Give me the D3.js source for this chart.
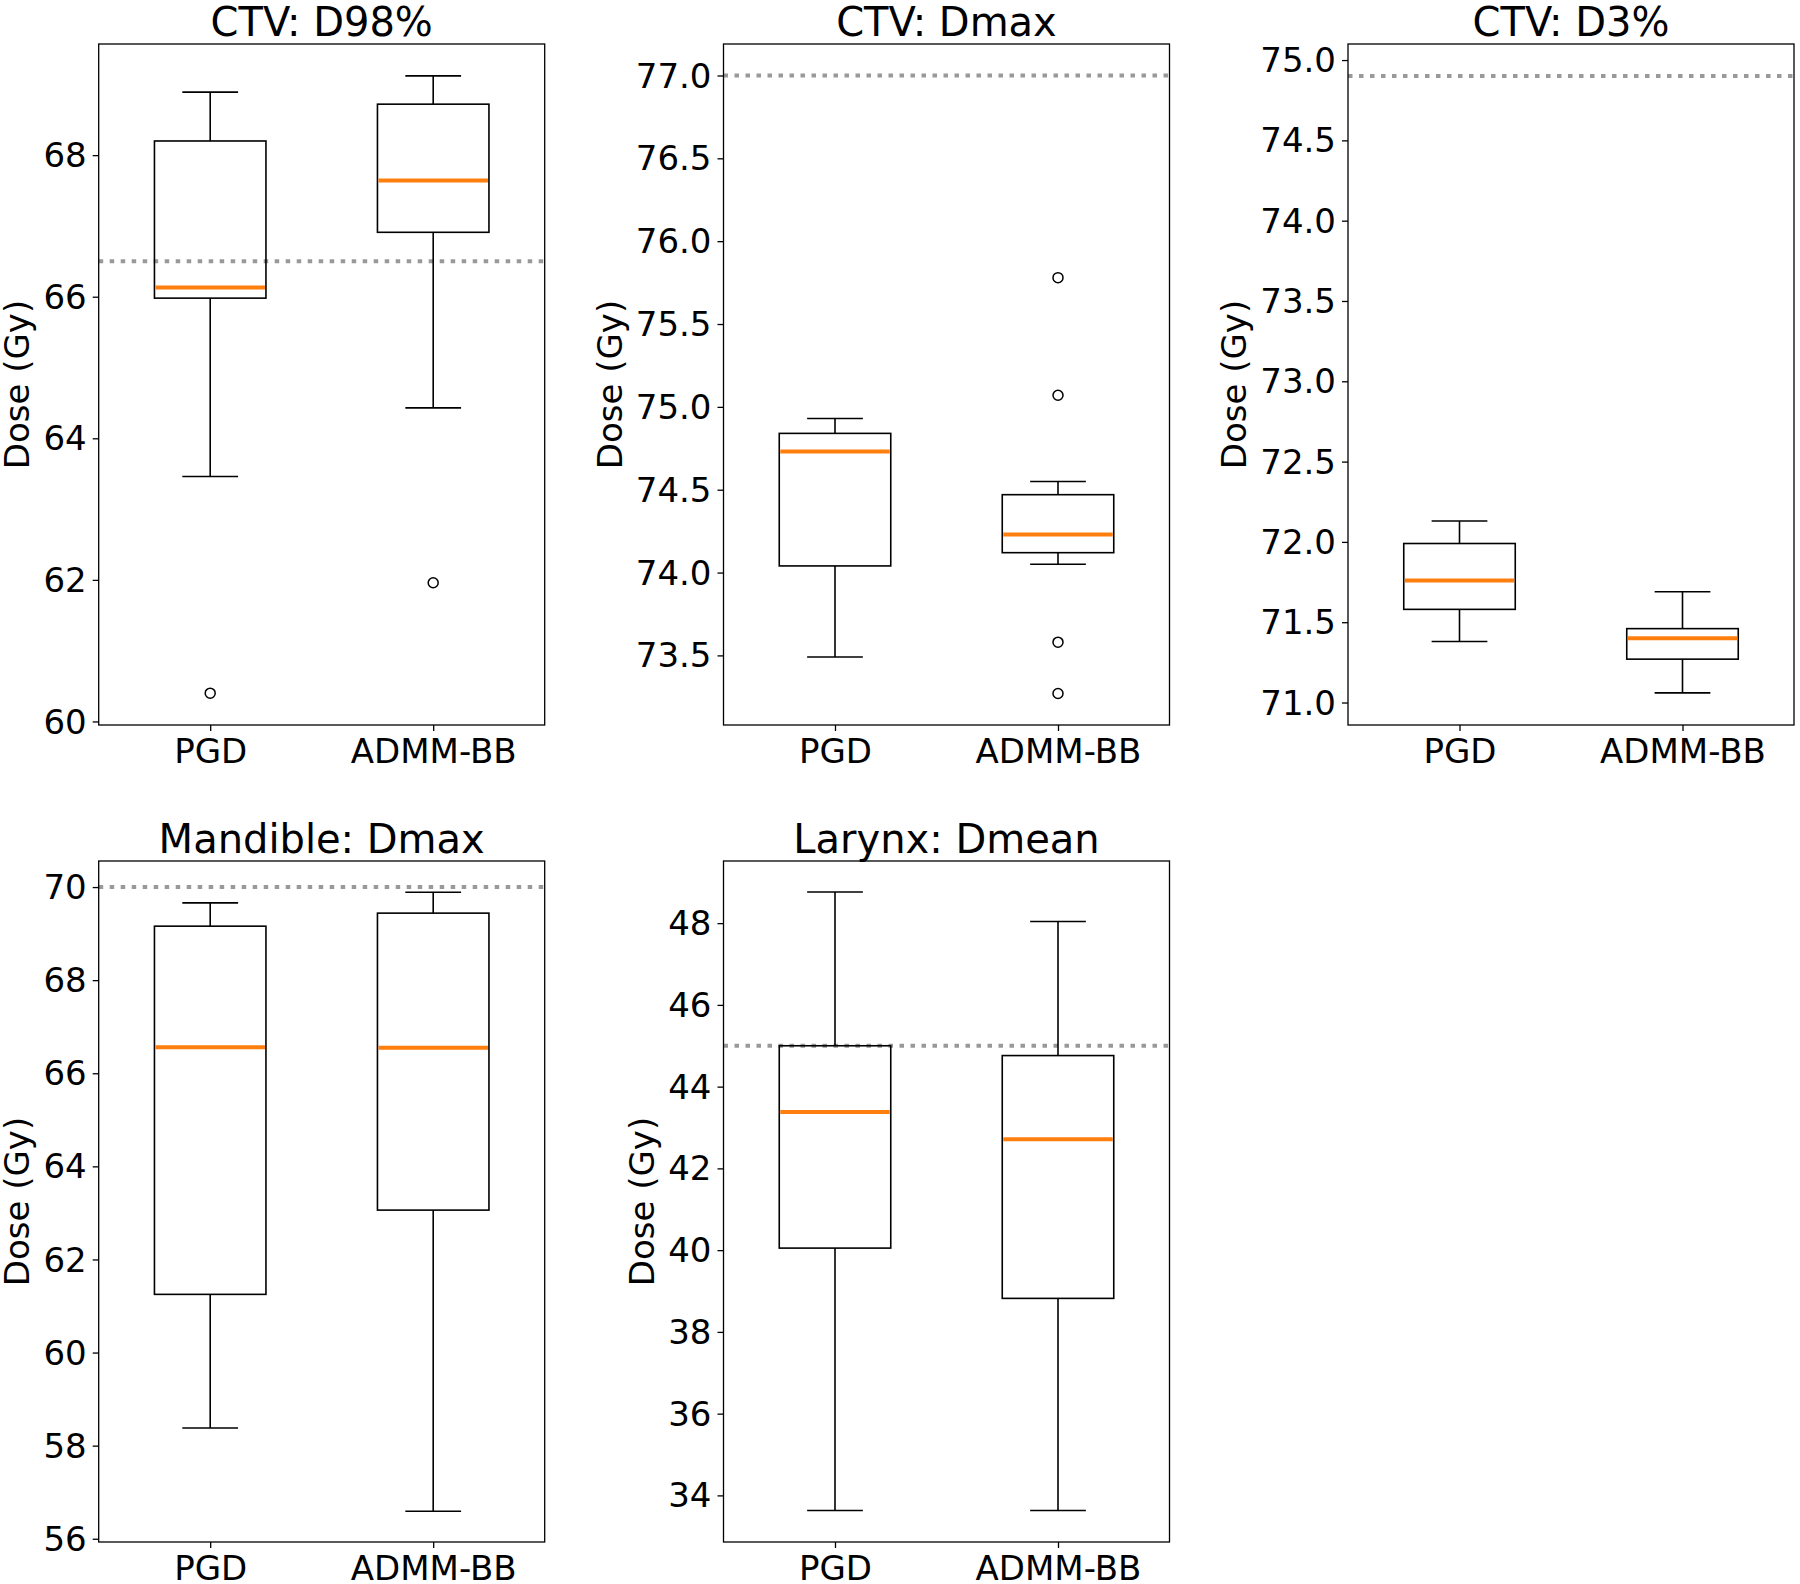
<!DOCTYPE html>
<html>
<head>
<meta charset="utf-8">
<script src="https://cdn.jsdelivr.net/npm/d3@7"></script>
<style>
  html, body { margin: 0; padding: 0; background: #fff; }
  svg { display: block; }
  text { font-family: "DejaVu Sans", sans-serif; fill: #000; }
</style>
</head>
<body>
<svg id="chart" width="1800" height="1584"></svg>
<script>
// ---------- data ----------
const groups = ["PGD", "ADMM-BB"];
const titles = ["CTV: D98%", "CTV: Dmax", "CTV: D3%", "Mandible: Dmax", "Larynx: Dmean"];
const yLabel = "Dose (Gy)";

// box statistics: [lower whisker, Q1, median, Q3, upper whisker]
const d98PGD   = [63.46, 65.98, 66.13, 68.20, 68.89];
const d98ADMM  = [64.43, 66.91, 67.64, 68.72, 69.12];
const dmaxPGD  = [73.49, 74.04, 74.73, 74.84, 74.93];
const dmaxADMM = [74.05, 74.12, 74.23, 74.47, 74.55];
const d3PGD    = [71.38, 71.58, 71.76, 71.99, 72.13];
const d3ADMM   = [71.06, 71.27, 71.40, 71.46, 71.69];
const mandPGD  = [58.38, 61.25, 66.56, 69.16, 69.66];
const mandADMM = [56.59, 63.06, 66.55, 69.44, 69.89];
const larPGD   = [33.63, 40.05, 43.38, 45.00, 48.76];
const larADMM  = [33.63, 38.82, 42.71, 44.76, 48.04];

// outliers
const d98PGDOut   = [60.40];
const d98ADMMOut  = [61.96];
const dmaxPGDOut  = [];
const dmaxADMMOut = [75.78, 75.07, 73.58, 73.27];
const d3PGDOut = [], d3ADMMOut = [], mandPGDOut = [], mandADMMOut = [], larPGDOut = [], larADMMOut = [];

// constraint (threshold) lines
const thresholds = [66.5, 77.0, 74.9, 70.0, 45.0];

// axis limits
const yLimits = [[59.95, 69.57], [73.08, 77.19], [70.86, 75.10], [55.93, 70.56], [32.86, 49.52]];

// tick values
const ticksD98  = [60, 62, 64, 66, 68];
const ticksDmax = [73.5, 74.0, 74.5, 75.0, 75.5, 76.0, 76.5, 77.0];
const ticksD3   = [71.0, 71.5, 72.0, 72.5, 73.0, 73.5, 74.0, 74.5, 75.0];
const ticksMand = [56, 58, 60, 62, 64, 66, 68, 70];
const ticksLar  = [34, 36, 38, 40, 42, 44, 46, 48];
const tickFormats = [".0f", ".1f", ".1f", ".0f", ".0f"];

// ---------- layout ----------
const colLeft = [98.7, 723.5, 1348];
const rowTop = [44, 861];
const W = 446, H = 681;

const panels = [
  { stats: [d98PGD, d98ADMM],   out: [d98PGDOut, d98ADMMOut],   ticks: ticksD98,  col: 0, row: 0 },
  { stats: [dmaxPGD, dmaxADMM], out: [dmaxPGDOut, dmaxADMMOut], ticks: ticksDmax, col: 1, row: 0 },
  { stats: [d3PGD, d3ADMM],     out: [d3PGDOut, d3ADMMOut],     ticks: ticksD3,   col: 2, row: 0 },
  { stats: [mandPGD, mandADMM], out: [mandPGDOut, mandADMMOut], ticks: ticksMand, col: 0, row: 1 },
  { stats: [larPGD, larADMM],   out: [larPGDOut, larADMMOut],   ticks: ticksLar,  col: 1, row: 1 }
];

const svg = d3.select("#chart");

panels.forEach((p, i) => {
  const x0 = colLeft[p.col], y0 = rowTop[p.row];
  const g = svg.append("g").attr("transform", `translate(${x0},${y0})`);

  const x = d3.scaleLinear().domain([0.5, 2.5]).range([0, W]);
  const y = d3.scaleLinear().domain(yLimits[i]).range([H, 0]);
  const boxW = x(1.25) - x(1.0);   // half box width in px (box width 0.5)
  const capW = x(1.125) - x(1.0);  // half cap width

  // threshold dotted line
  g.append("line")
    .attr("x1", 0).attr("x2", W)
    .attr("y1", y(thresholds[i])).attr("y2", y(thresholds[i]))
    .attr("stroke", "#999999").attr("stroke-width", 4)
    .attr("stroke-dasharray", "4.5 6.5");

  // boxes
  p.stats.forEach((s, k) => {
    const cx = x(k + 1);
    const bg = g.append("g");
    bg.append("line").attr("x1", cx).attr("x2", cx).attr("y1", y(s[0])).attr("y2", y(s[1]))
      .attr("stroke", "#000").attr("stroke-width", 1.6);
    bg.append("line").attr("x1", cx).attr("x2", cx).attr("y1", y(s[3])).attr("y2", y(s[4]))
      .attr("stroke", "#000").attr("stroke-width", 1.6);
    [s[0], s[4]].forEach(v => {
      bg.append("line").attr("x1", cx - capW).attr("x2", cx + capW).attr("y1", y(v)).attr("y2", y(v))
        .attr("stroke", "#000").attr("stroke-width", 1.6);
    });
    bg.append("rect").attr("x", cx - boxW).attr("width", 2 * boxW)
      .attr("y", y(s[3])).attr("height", y(s[1]) - y(s[3]))
      .attr("fill", "none").attr("stroke", "#000").attr("stroke-width", 1.6);
    bg.append("line").attr("x1", cx - boxW + 1).attr("x2", cx + boxW - 1)
      .attr("y1", y(s[2])).attr("y2", y(s[2]))
      .attr("stroke", "#ff7f0e").attr("stroke-width", 4);
    p.out[k].forEach(v => {
      bg.append("circle").attr("cx", cx).attr("cy", y(v)).attr("r", 5)
        .attr("fill", "none").attr("stroke", "#000").attr("stroke-width", 1.5);
    });
  });

  // frame
  g.append("rect").attr("x", 0).attr("y", 0).attr("width", W).attr("height", H)
    .attr("fill", "none").attr("stroke", "#000").attr("stroke-width", 1.3);

  // y axis
  const yAxis = d3.axisLeft(y).tickValues(p.ticks).tickFormat(d3.format(tickFormats[i]))
    .tickSize(6).tickPadding(6);
  const ya = g.append("g").call(yAxis);
  ya.select(".domain").remove();
  ya.selectAll(".tick line").attr("stroke", "#000").attr("stroke-width", 1.3);
  ya.selectAll(".tick text").attr("font-size", 34).attr("font-family", "DejaVu Sans")
    .attr("fill", "#000").attr("dy", "0.34em");

  // x axis
  const xAxis = d3.axisBottom(x).tickValues([1, 2]).tickFormat((d) => groups[d - 1])
    .tickSize(6).tickPadding(6);
  const xa = g.append("g").attr("transform", `translate(0,${H})`).call(xAxis);
  xa.select(".domain").remove();
  xa.selectAll(".tick line").attr("stroke", "#000").attr("stroke-width", 1.3);
  xa.selectAll(".tick text").attr("font-size", 34).attr("font-family", "DejaVu Sans")
    .attr("fill", "#000").attr("dy", null).attr("y", 38);

  // title
  g.append("text").attr("x", W / 2).attr("y", -8).attr("text-anchor", "middle")
    .attr("font-size", 40).text(titles[i]);

  // y label, placed left of the tick labels
  let minX = 0;
  ya.selectAll(".tick text").each(function () {
    const b = this.getBBox();
    minX = Math.min(minX, b.x);
  });
  const lx = minX - 14;
  g.append("text").attr("transform", `translate(${lx},${H / 2}) rotate(-90)`)
    .attr("text-anchor", "middle").attr("font-size", 34).text(yLabel);
});
</script>
</body>
</html>
